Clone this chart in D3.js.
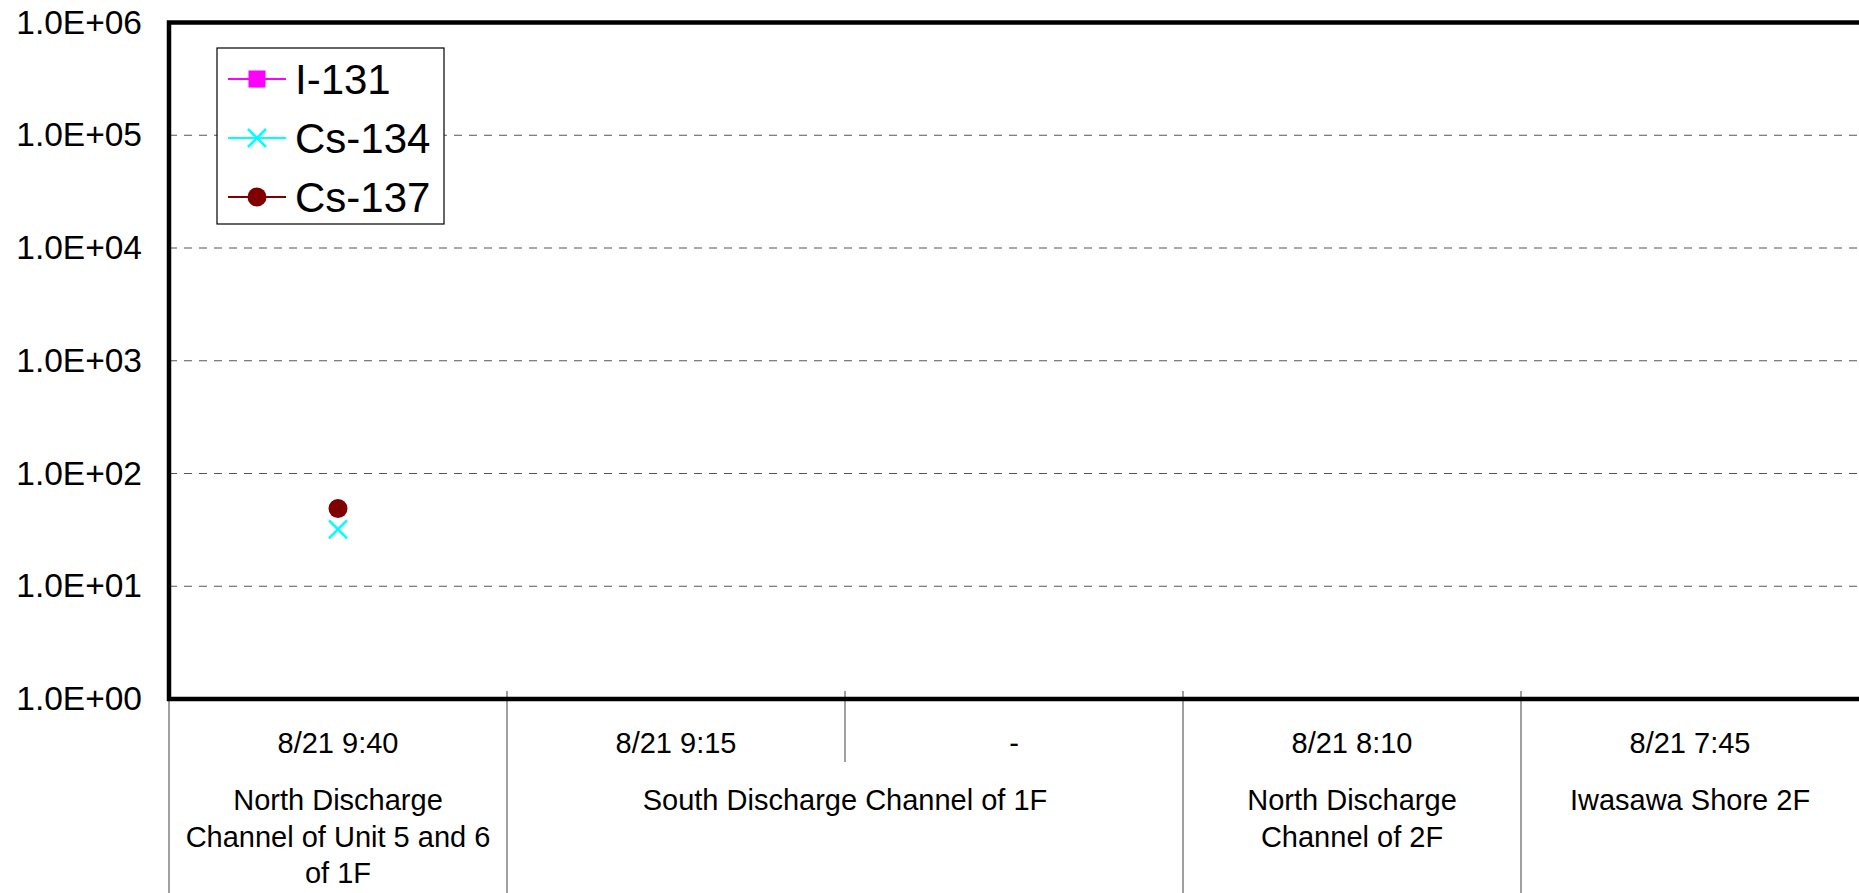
<!DOCTYPE html>
<html>
<head>
<meta charset="utf-8">
<script src="https://cdnjs.cloudflare.com/ajax/libs/d3/7.8.5/d3.min.js"></script>
<style>
body { margin: 0; background: #fff; }
text { font-family: "Liberation Sans", Arial, sans-serif; fill: #000; }
</style>
</head>
<body>
<svg id="chart" width="1859" height="893"></svg>
<script>
// data
var dates = ["8/21 9:40", "8/21 9:15", "-", "8/21 8:10", "8/21 7:45"];
var places = ["North Discharge Channel of Unit 5 and 6 of 1F", "South Discharge Channel of 1F",
    "North Discharge Channel of 2F", "Iwasawa Shore 2F"];
var placeSpans = [1, 2, 1, 1];
var seriesNames = ["I-131", "Cs-134", "Cs-137"];
var i131 = [null, null, null, null, null];
var cs134 = [32, null, null, null, null];
var cs137 = [49, null, null, null, null];
var yTicks = [1, 10, 100, 1000, 10000, 100000, 1000000];

var svg = d3.select("#chart");

var plot = { left: 169, right: 1859, top: 22.5, bottom: 699 };

var x = d3.scaleBand()
    .domain(d3.range(dates.length))
    .range([plot.left, plot.right]);

var y = d3.scaleLog()
    .domain([1, 1e6])
    .range([plot.bottom, plot.top]);

var series = [
    { name: seriesNames[0], values: i131, color: "#FF00FF", shape: "square" },
    { name: seriesNames[1], values: cs134, color: "#00FFFF", shape: "cross" },
    { name: seriesNames[2], values: cs137, color: "#800000", shape: "circle" }
];

function sciLabel(d) {
    var s = d3.format(".1e")(d);   // "1.0e+5"
    var parts = s.split("e");
    var exp = +parts[1];
    return parts[0] + "E" + (exp < 0 ? "-" : "+") + d3.format("02d")(Math.abs(exp));
}

// gridlines
svg.append("g")
    .selectAll("line")
    .data(yTicks.filter(function (d) { return d > 1 && d < 1e6; }))
    .enter()
    .append("line")
    .attr("x1", plot.left)
    .attr("x2", plot.right)
    .attr("y1", function (d) { return y(d); })
    .attr("y2", function (d) { return y(d); })
    .attr("stroke", "#555")
    .attr("stroke-width", 1.2)
    .attr("stroke-dasharray", "8,7");

// y axis
var yAxis = d3.axisLeft(y)
    .tickValues(yTicks)
    .tickFormat(sciLabel)
    .tickSize(0)
    .tickPadding(27);

var yg = svg.append("g")
    .attr("transform", "translate(" + plot.left + ",0)")
    .call(yAxis);
yg.select(".domain").remove();
yg.selectAll("text")
    .style("font-family", "'Liberation Sans', Arial, sans-serif")
    .style("font-size", "33.5px")
    .attr("fill", "#000");

// category separators
var bounds = [0];
placeSpans.forEach(function (s) { bounds.push(bounds[bounds.length - 1] + s); });

svg.append("g")
    .selectAll("line")
    .data(d3.range(dates.length))
    .enter()
    .append("line")
    .attr("x1", function (i) { return x(i); })
    .attr("x2", function (i) { return x(i); })
    .attr("y1", 691)
    .attr("y2", function (i) { return bounds.indexOf(i) >= 0 ? 893 : 762; })
    .attr("stroke", "#6e6e6e")
    .attr("stroke-width", 1.3);

// date row
svg.append("g")
    .selectAll("text")
    .data(dates)
    .enter()
    .append("text")
    .attr("x", function (d, i) { return x(i) + x.bandwidth() / 2; })
    .attr("y", 753)
    .attr("text-anchor", "middle")
    .style("font-size", "29px")
    .text(function (d) { return d; });

// place row
var placeText = svg.append("g")
    .selectAll("text")
    .data(places)
    .enter()
    .append("text")
    .attr("text-anchor", "middle")
    .style("font-size", "29px")
    .attr("transform", function (d, i) {
        var x0 = x(bounds[i]);
        var x1 = bounds[i + 1] < dates.length ? x(bounds[i + 1]) : plot.right;
        return "translate(" + (x0 + x1) / 2 + ",810)";
    });

placeText.each(function (d, i) {
    var t = d3.select(this);
    var maxW = placeSpans[i] * x.bandwidth() - 20;
    var words = d.split(" ");
    var line = [];
    var lineNo = 0;
    var tspan = t.append("tspan").attr("x", 0).attr("y", 0);
    words.forEach(function (w) {
        line.push(w);
        tspan.text(line.join(" "));
        if (tspan.node().getComputedTextLength() > maxW && line.length > 1) {
            line.pop();
            tspan.text(line.join(" "));
            line = [w];
            lineNo++;
            tspan = t.append("tspan").attr("x", 0).attr("y", lineNo * 36.5).text(w);
        }
    });
});

// plot frame
svg.append("path")
    .attr("d", "M" + plot.right + "," + plot.top + "H" + plot.left + "V" + plot.bottom + "H" + plot.right)
    .attr("fill", "none")
    .attr("stroke", "#000")
    .attr("stroke-width", 4.5);

// markers
function drawMarker(g, shape, color, cx, cy) {
    if (shape == "square") {
        g.append("rect")
            .attr("x", cx - 8.5).attr("y", cy - 8.5)
            .attr("width", 17).attr("height", 17)
            .attr("fill", color);
    } else if (shape == "cross") {
        g.append("path")
            .attr("d", "M" + (cx - 9) + "," + (cy - 9) + "L" + (cx + 9) + "," + (cy + 9) +
                "M" + (cx - 9) + "," + (cy + 9) + "L" + (cx + 9) + "," + (cy - 9))
            .attr("stroke", color)
            .attr("stroke-width", 2.6)
            .attr("fill", "none");
    } else {
        g.append("circle")
            .attr("cx", cx).attr("cy", cy).attr("r", 9.5)
            .attr("fill", color);
    }
}

var line = d3.line()
    .defined(function (d) { return d != null; })
    .x(function (d, i) { return x(i) + x.bandwidth() / 2; })
    .y(function (d) { return y(d); });

series.forEach(function (s) {
    var g = svg.append("g");
    g.append("path")
        .attr("d", line(s.values))
        .attr("fill", "none")
        .attr("stroke", s.color)
        .attr("stroke-width", 2);
    s.values.forEach(function (v, i) {
        if (v != null) drawMarker(g, s.shape, s.color, x(i) + x.bandwidth() / 2, y(v));
    });
});

// legend
var legend = svg.append("g");
legend.append("rect")
    .attr("x", 217)
    .attr("y", 48)
    .attr("width", 227)
    .attr("height", 176)
    .attr("fill", "#fff")
    .attr("stroke", "#000")
    .attr("stroke-width", 1.2);

series.forEach(function (s, i) {
    var ly = 79 + i * 59;
    legend.append("line")
        .attr("x1", 228).attr("x2", 286)
        .attr("y1", ly).attr("y2", ly)
        .attr("stroke", s.color)
        .attr("stroke-width", 2.2);
    drawMarker(legend, s.shape, s.color, 257, ly);
    legend.append("text")
        .attr("x", 295)
        .attr("y", ly)
        .attr("dy", "0.36em")
        .style("font-size", "42px")
        .text(s.name);
});
</script>
</body>
</html>
